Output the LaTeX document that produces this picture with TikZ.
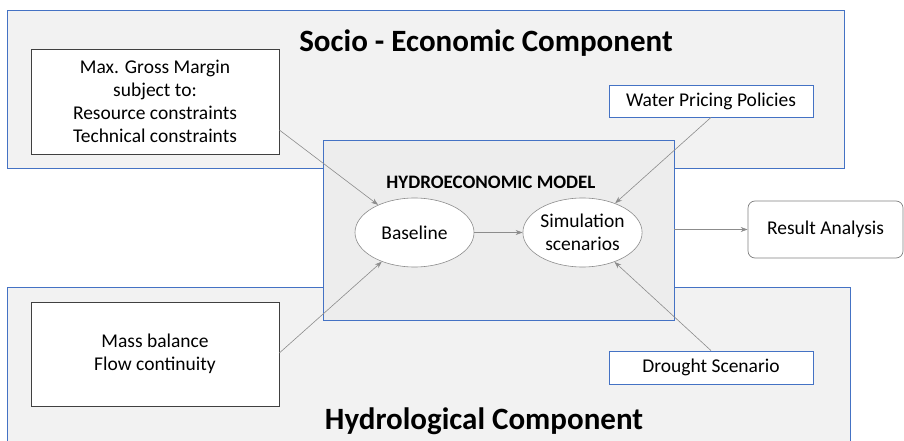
\documentclass[tikz,border=0pt]{standalone}
\usepackage{fontspec}
\setmainfont{Carlito}
\usetikzlibrary{arrows.meta,shapes.geometric}
\definecolor{compfill}{HTML}{F2F2F2}
\definecolor{modelfill}{HTML}{EDEDED}
\definecolor{edgeblue}{HTML}{4472C4}
\definecolor{linkgray}{HTML}{8C8C8C}
\tikzset{
  bodytext/.style={font=\fontsize{19.5}{23}\selectfont},
  panel/.style={draw=edgeblue, fill=compfill, line width=0.8pt},
  modelbox/.style={draw=edgeblue, fill=modelfill, line width=0.8pt},
  plainbox/.style={draw=black!75, fill=white, line width=0.7pt, align=center, bodytext},
  tagbox/.style={draw=edgeblue, fill=white, line width=0.8pt, align=center, bodytext},
  oval/.style={ellipse, draw=black!45, fill=white, line width=0.6pt, align=center, inner sep=0pt, bodytext},
  link/.style={draw=linkgray, line width=0.6pt, -{Stealth[length=7pt,width=5pt]}},
  heading/.style={font=\bfseries\fontsize{31}{36}\selectfont},
}
\begin{document}
\begin{tikzpicture}[x=1pt,y=-1pt]
\useasboundingbox (0,0) rectangle (904,441);
\clip (0,0) rectangle (904,441);
% component panels
\path[panel] (7,10) rectangle (844,168);
\path[panel] (7,287) rectangle (850,460);
\node[heading] (socio) at (486,43) {Socio - Economic Component};
\node[heading] (hydro) at (484,421) {Hydrological Component};
% model panel
\path[modelbox] (323,140) rectangle (674,320);
\coordinate (modelout) at (674,229.5);
\node[font=\bfseries\fontsize{19}{22}\selectfont] (title) at (491,182) {HYDROECONOMIC MODEL};
% inputs
\node[plainbox, minimum width=248, minimum height=105] (gross) at (155,101.5)
  {Max. Gross Margin\\subject to:\\Resource constraints\\Technical constraints};
\node[plainbox, minimum width=248, minimum height=104] (mass) at (155,354)
  {Mass balance\\Flow continuity};
\node[tagbox, minimum width=204, minimum height=32] (price) at (711,101) {Water Pricing Policies};
\node[tagbox, minimum width=204, minimum height=33] (drought) at (711,367.5) {Drought Scenario};
% model elements
\node[oval, minimum width=119, minimum height=69] (base) at (414.5,232.5) {Baseline};
\node[oval, minimum width=119, minimum height=69] (sim) at (582.5,232.5) {Simulation\\scenarios};
% output
\node[draw=black!50, fill=white, rounded corners=7pt, line width=0.7pt, minimum width=155, minimum height=57,
  bodytext] (result) at (825.5,229.5) {Result Analysis};
% connectors
\draw[link] (gross.south east |- 0,130) -- (base);
\draw[link] (mass.east) ++(0,-1) -- (base);
\draw[link] (price.south) -- (sim);
\draw[link] (drought.north) -- (sim);
\draw[link] (base) -- (sim);
\draw[link] (modelout) -- (result.west);
\end{tikzpicture}
\end{document}
